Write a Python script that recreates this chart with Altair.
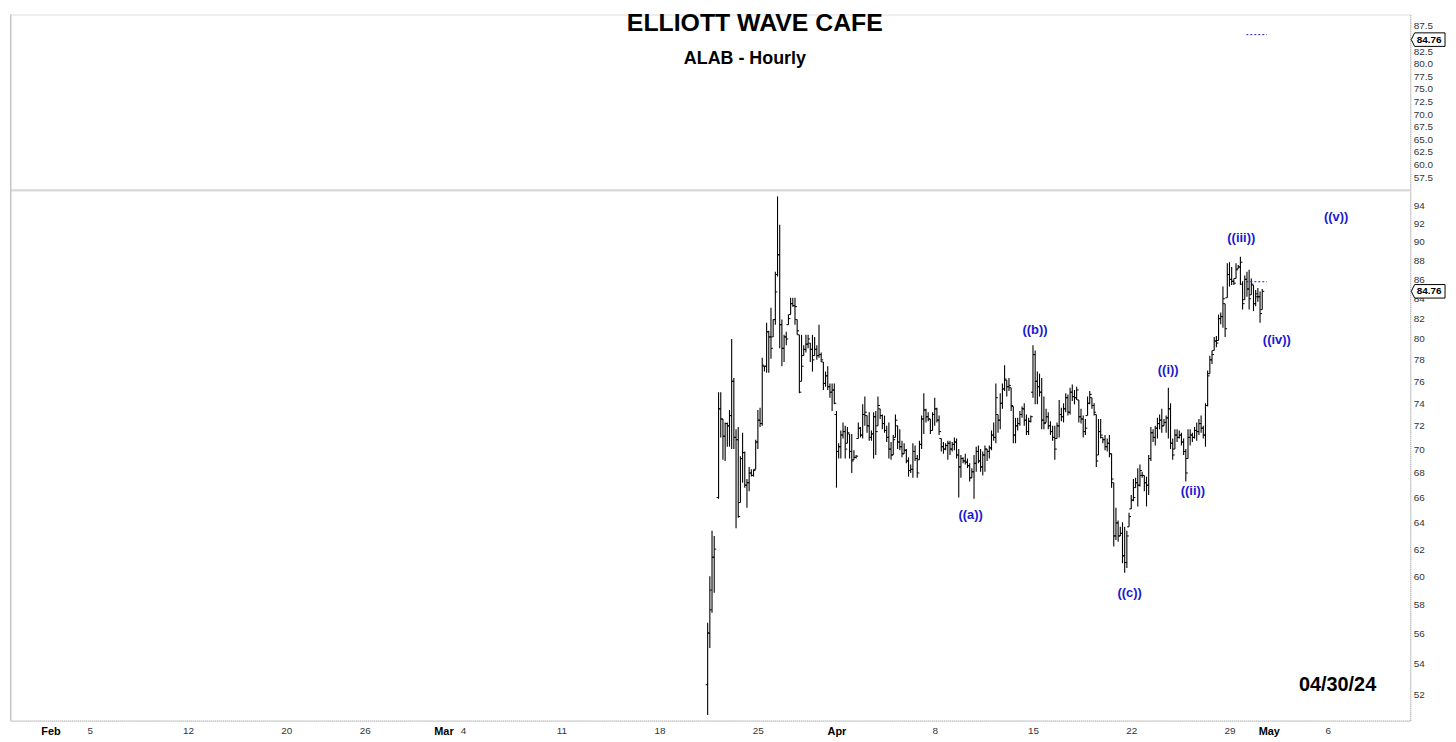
import altair as alt
import pandas as pd

# ---------------- calendar / tick labels ----------------
holidays = ["2024-02-19", "2024-03-29"]
tick_labels = ["Feb", "5", "12", "20", "26", "Mar", "4", "11", "18", "25",
               "Apr", "8", "15", "22", "29", "May", "6"]
tick_dates = ["2024-02-01", "2024-02-05", "2024-02-12", "2024-02-20", "2024-02-26",
              "2024-03-01", "2024-03-04", "2024-03-11", "2024-03-18", "2024-03-25",
              "2024-04-01", "2024-04-08", "2024-04-15", "2024-04-22", "2024-04-29",
              "2024-05-01", "2024-05-06"]
month_labels = ["Feb", "Mar", "Apr", "May"]

main_y_ticks = [52, 54, 56, 58, 60, 62, 64, 66, 68, 70, 72, 74, 76, 78, 80,
                82, 84, 86, 88, 90, 92, 94]
# 85.0 sits under the last-price tag in the reference, so it is not shown
top_y_ticks = [57.5, 60.0, 62.5, 65.0, 67.5, 70.0, 72.5, 75.0, 77.5, 80.0,
               82.5, 87.5]

# ---------------- hourly sessions ----------------
session_dates = ["2024-03-20", "2024-03-21", "2024-03-22", "2024-03-25", "2024-03-26",
                 "2024-03-27", "2024-03-28", "2024-04-01", "2024-04-02", "2024-04-03",
                 "2024-04-04", "2024-04-05", "2024-04-08", "2024-04-09", "2024-04-10",
                 "2024-04-11", "2024-04-12", "2024-04-15", "2024-04-16", "2024-04-17",
                 "2024-04-18", "2024-04-19", "2024-04-22", "2024-04-23", "2024-04-24",
                 "2024-04-25", "2024-04-26", "2024-04-29", "2024-04-30"]
bars_per_session = [4, 9, 9, 9, 9, 9, 9, 9, 9, 9, 9, 9, 9, 9, 9,
                    9, 9, 9, 9, 9, 9, 9, 9, 9, 9, 9, 9, 9, 7]
IPO_FIRST_SLOT = 4
SLOTS_PER_SESSION = 9

opens = [
    52.6, 56.0, 57.6, 61.4,
    66.0, 73.5, 72.6, 71.1, 72.2, 72.0, 72.9, 76.0, 71.0,
    70.8, 65.6, 69.2, 69.7, 67.0, 67.2, 68.0, 67.8, 68.3,
    70.6, 72.5, 72.2, 77.4, 77.4, 80.7, 80.2, 80.2, 81.9,
    86.5, 88.6, 81.4, 79.1, 80.2, 81.4, 82.4, 83.5, 83.3,
    81.9, 80.4, 76.0, 78.4, 79.0, 79.5, 79.6, 79.0, 78.4,
    79.0, 78.4, 78.5, 77.8, 75.8, 76.5, 75.5, 75.0, 75.2,
    73.0, 69.8, 70.2, 71.2, 71.5, 70.5, 71.3, 69.8, 69.1,
    69.3, 70.9, 71.8, 71.2, 73.0, 72.9, 72.0, 71.0, 71.3,
    72.8, 72.0, 73.5, 72.9, 72.2, 71.6, 71.0, 70.0, 69.5,
    71.0, 72.0, 70.6, 70.2, 69.6, 69.9, 69.0, 68.2, 68.3,
    69.8, 69.2, 69.1, 70.4, 72.6, 73.4, 72.8, 72.6, 71.6,
    73.0, 73.5, 72.5, 70.9, 70.2, 70.0, 70.3, 70.5, 70.0,
    70.4, 70.6, 69.5, 68.5, 69.2, 69.0, 68.9, 68.6, 67.6,
    68.1, 68.8, 69.8, 69.0, 68.5, 69.5, 70.0, 69.8, 70.1,
    71.2, 71.0, 73.0, 72.5, 74.0, 75.3, 76.1, 75.5, 75.4,
    73.7, 71.2, 72.0, 72.2, 73.0, 73.5, 72.5, 71.5, 72.4,
    75.0, 78.5, 76.0, 75.5, 75.0, 72.5, 72.3, 72.8, 72.0,
    71.5, 71.0, 70.9, 72.0, 73.0, 72.8, 73.5, 74.5, 73.2,
    75.0, 74.6, 74.5, 74.3, 72.8, 72.6, 71.5, 72.9, 74.0,
    74.5, 73.8, 73.0, 69.5, 71.5, 71.0, 70.8, 70.2, 70.5,
    69.6, 67.2, 63.0, 64.0, 63.0, 63.2, 61.5, 61.0, 63.7,
    65.1, 65.8, 66.8, 67.2, 67.0, 67.8, 67.8, 67.2, 67.0,
    69.2, 71.4, 71.0, 71.8, 72.2, 72.5, 72.0, 72.3, 72.7,
    73.5, 70.5, 70.0, 71.2, 71.0, 71.2, 70.6, 69.8, 69.2,
    71.0, 71.2, 71.0, 71.6, 71.5, 72.2, 71.8, 71.2, 73.8,
    76.7, 78.0, 78.9, 79.8, 79.85, 82.0, 82.2, 83.5, 84.1,
    86.5, 86.0, 85.8, 86.1, 87.1, 87.3, 85.5, 83.9, 86.0,
    85.0, 84.4, 85.4, 83.5, 84.2, 84.2, 82.9,
]
highs = [
    56.7, 60.0, 63.4, 63.0,
    75.0, 75.0, 72.6, 72.3, 72.3, 73.4, 80.0, 76.3, 71.7,
    71.9, 69.4, 71.4, 69.8, 67.5, 68.5, 68.3, 68.3, 70.8,
    73.4, 73.6, 78.2, 77.4, 81.6, 80.8, 83.1, 81.9, 86.8,
    95.1, 91.9, 81.9, 80.4, 80.7, 82.4, 84.1, 84.1, 84.1,
    81.9, 80.4, 80.4, 79.4, 80.4, 80.4, 79.6, 80.4, 80.2,
    79.4, 81.4, 78.7, 77.8, 76.9, 77.4, 75.8, 75.8, 75.8,
    73.3, 70.5, 71.6, 72.3, 72.0, 71.9, 71.3, 71.3, 69.9,
    69.5, 72.3, 71.9, 73.9, 74.6, 72.9, 73.2, 71.6, 73.2,
    73.3, 74.6, 73.5, 73.0, 72.9, 72.0, 72.3, 70.6, 71.2,
    73.0, 72.0, 71.7, 70.7, 70.5, 70.0, 69.3, 68.7, 70.5,
    70.3, 69.5, 70.7, 72.9, 74.9, 73.5, 73.2, 72.6, 73.2,
    74.5, 73.6, 72.9, 70.9, 70.6, 70.5, 70.7, 70.7, 70.6,
    71.0, 70.9, 70.0, 69.5, 69.3, 69.6, 69.2, 68.8, 68.4,
    69.5, 70.2, 70.3, 70.0, 69.8, 70.3, 70.0, 70.3, 71.6,
    72.3, 75.8, 73.0, 74.9, 75.8, 77.5, 76.1, 76.3, 75.4,
    73.7, 72.7, 72.7, 73.3, 73.7, 74.0, 73.0, 72.7, 72.9,
    79.4, 78.9, 76.9, 76.7, 76.3, 74.6, 73.5, 73.2, 72.4,
    72.0, 72.0, 72.3, 74.3, 73.6, 74.0, 74.9, 74.8, 75.4,
    75.7, 75.2, 75.5, 74.3, 73.5, 72.9, 72.6, 74.6, 75.1,
    74.5, 74.0, 73.0, 72.6, 72.6, 71.0, 71.2, 70.9, 71.2,
    69.6, 67.2, 65.2, 64.2, 63.7, 64.05, 63.7, 63.4, 64.8,
    66.2, 67.5, 67.6, 68.4, 68.7, 68.1, 67.8, 67.7, 69.5,
    71.9, 71.7, 72.0, 72.7, 73.0, 73.5, 72.6, 72.9, 75.4,
    74.0, 70.9, 71.7, 71.7, 71.6, 71.4, 70.9, 70.0, 71.7,
    71.7, 71.4, 71.9, 72.3, 72.6, 72.9, 72.0, 74.0, 77.0,
    78.4, 78.9, 80.2, 80.3, 82.4, 82.6, 85.25, 83.5, 87.7,
    87.8, 87.3, 86.1, 87.7, 87.5, 88.4, 85.8, 86.4, 86.8,
    87.0, 86.1, 85.4, 84.9, 85.1, 84.75, 85.0,
]
lows = [
    50.7, 55.0, 57.4, 58.8,
    65.9, 71.0, 69.1, 69.0, 70.2, 70.2, 70.0, 70.0, 63.6,
    64.4, 65.6, 67.2, 66.8, 65.2, 66.5, 67.7, 67.7, 68.3,
    70.0, 71.9, 72.0, 76.9, 76.8, 76.8, 78.1, 80.2, 81.4,
    86.3, 79.1, 77.4, 77.8, 79.4, 81.4, 82.4, 83.2, 81.4,
    80.4, 74.9, 76.0, 78.4, 78.7, 79.1, 77.8, 76.9, 78.4,
    78.0, 78.2, 77.8, 75.2, 75.5, 75.2, 74.5, 73.3, 73.9,
    66.8, 69.2, 69.2, 70.9, 69.2, 70.5, 69.2, 68.0, 69.1,
    69.2, 70.9, 71.0, 70.9, 72.0, 71.4, 70.7, 70.7, 69.2,
    69.5, 72.0, 72.6, 71.7, 71.4, 70.6, 69.2, 69.1, 69.5,
    71.0, 70.0, 69.9, 69.3, 69.6, 68.8, 67.7, 68.0, 67.6,
    69.0, 67.6, 69.1, 70.0, 71.3, 72.3, 72.4, 71.3, 71.6,
    72.0, 72.3, 71.2, 69.8, 69.6, 69.9, 69.1, 69.5, 69.8,
    69.9, 69.2, 66.0, 67.6, 68.8, 68.7, 68.4, 67.3, 67.6,
    65.9, 68.1, 68.8, 68.1, 67.8, 68.1, 69.0, 69.2, 69.9,
    70.7, 70.5, 71.4, 71.7, 73.5, 75.1, 74.6, 75.1, 73.3,
    70.5, 70.5, 71.6, 72.0, 72.7, 72.0, 71.2, 71.2, 72.3,
    74.5, 73.9, 73.9, 74.6, 71.7, 71.7, 72.3, 71.7, 71.2,
    70.7, 69.1, 70.9, 71.0, 72.4, 72.3, 73.2, 72.9, 73.0,
    74.2, 73.9, 74.3, 72.3, 72.2, 71.0, 71.2, 72.9, 73.9,
    73.5, 72.9, 68.5, 69.5, 70.9, 70.5, 69.9, 69.8, 69.3,
    66.8, 62.2, 62.7, 62.55, 63.0, 60.95, 60.25, 60.6, 63.7,
    65.1, 65.7, 66.8, 65.3, 66.9, 67.6, 66.5, 65.3, 66.2,
    69.0, 70.6, 70.3, 70.9, 71.7, 71.4, 72.0, 71.4, 70.9,
    70.0, 69.1, 70.0, 70.6, 70.9, 70.3, 69.5, 67.3, 69.2,
    70.3, 70.6, 70.9, 70.7, 71.2, 71.4, 70.9, 70.2, 73.7,
    76.7, 77.6, 78.9, 79.2, 79.85, 81.45, 81.1, 80.2, 84.1,
    85.25, 85.4, 85.4, 86.1, 87.1, 85.4, 82.9, 83.9, 84.2,
    82.9, 84.4, 82.75, 83.25, 83.7, 81.6, 82.9,
]
closes = [
    56.0, 59.0, 61.4, 62.0,
    73.5, 72.6, 71.1, 72.2, 72.0, 72.9, 76.0, 71.0, 70.8,
    64.5, 69.2, 69.7, 67.0, 67.2, 68.0, 67.8, 68.2, 70.6,
    72.5, 72.2, 77.5, 77.4, 80.7, 80.2, 79.1, 81.9, 84.7,
    88.6, 81.4, 79.1, 80.2, 80.0, 82.0, 83.5, 83.3, 83.2,
    80.8, 75.0, 77.4, 79.0, 79.5, 80.0, 79.0, 78.0, 79.0,
    78.4, 78.5, 78.0, 75.8, 76.5, 75.5, 75.0, 75.2, 74.0,
    69.8, 70.2, 71.2, 71.5, 70.0, 71.4, 69.8, 69.0, 69.3,
    69.4, 71.8, 71.2, 73.0, 73.2, 72.0, 71.0, 71.3, 72.8,
    71.5, 73.8, 72.9, 72.2, 71.6, 71.0, 70.0, 69.5, 70.8,
    72.5, 70.6, 70.2, 69.6, 69.9, 69.0, 68.2, 68.3, 69.8,
    69.2, 68.0, 70.4, 72.6, 73.4, 72.8, 72.6, 71.6, 73.0,
    73.5, 72.5, 71.5, 70.2, 70.0, 70.3, 70.5, 70.0, 70.4,
    70.6, 69.5, 68.5, 69.2, 69.0, 68.9, 68.6, 67.6, 68.1,
    68.8, 69.8, 69.0, 68.5, 69.5, 70.0, 69.8, 70.1, 71.2,
    71.0, 74.5, 72.5, 74.0, 75.3, 76.2, 75.5, 75.6, 73.8,
    71.2, 72.0, 72.2, 73.0, 73.5, 72.5, 71.5, 72.4, 72.8,
    78.5, 76.0, 75.5, 75.0, 72.5, 72.2, 72.8, 72.0, 71.5,
    71.0, 70.0, 72.0, 73.0, 72.8, 73.5, 74.5, 73.2, 75.0,
    74.6, 74.5, 75.2, 72.8, 72.6, 71.5, 71.8, 74.0, 74.8,
    73.8, 73.2, 69.0, 71.5, 71.2, 70.8, 70.2, 70.5, 69.6,
    67.5, 63.0, 64.0, 63.0, 63.2, 61.5, 61.0, 63.0, 64.5,
    65.8, 66.0, 67.2, 67.0, 68.2, 67.8, 67.2, 67.0, 69.2,
    71.4, 71.0, 71.8, 72.2, 72.5, 72.0, 72.3, 72.7, 73.5,
    70.5, 69.5, 71.2, 71.0, 71.2, 70.6, 69.8, 68.0, 71.0,
    71.2, 71.0, 71.6, 71.5, 72.2, 71.8, 71.2, 73.8, 76.5,
    78.0, 78.5, 79.8, 79.6, 82.0, 82.2, 84.0, 81.0, 86.5,
    86.0, 85.8, 85.6, 87.0, 87.3, 87.8, 83.5, 86.0, 85.0,
    84.0, 85.5, 83.5, 84.5, 84.2, 82.5, 84.76,
]

# Elliott-wave labels (position in sessions since Feb 1, price)
wave_labels = ["((a))", "((b))", "((c))", "((i))", "((ii))", "((iii))", "((iv))", "((v))"]
wave_pos = [46.83, 50.1, 54.92, 56.88, 58.14, 60.6, 62.41, 65.43]
wave_price = [64.6, 80.9, 58.8, 77.0, 66.5, 90.4, 79.85, 92.8]

last_price = 84.76
level_price = 85.75
level_start = 60.86
level_end = 61.9
date_stamp = "04/30/24"
date_stamp_pos = 65.5
date_stamp_price = 52.6

# ---------------- layout ----------------
W = 1410
H_TOP = 177
H_MAIN = 534
X_DOMAIN = [-2.06, 69.2]
MAIN_Y_DOMAIN = [50.36, 95.81]
TOP_Y_DOMAIN = [54.9, 89.74]
FONT = "Liberation Sans"
BLUE = "#1a1ad0"
EDGE_GRAY = "#c4c4c4"

cal = [d.strftime("%Y-%m-%d") for d in pd.bdate_range("2024-02-01", "2024-05-10")
       if d.strftime("%Y-%m-%d") not in holidays]
pos = {d: i for i, d in enumerate(cal)}

rows = []
i = 0
for s, (d, n) in enumerate(zip(session_dates, bars_per_session)):
    start = IPO_FIRST_SLOT if s == 0 else 0
    for k in range(n):
        rows.append({"t": pos[d] + (start + k) / SLOTS_PER_SESSION,
                     "o": opens[i], "h": highs[i], "l": lows[i], "c": closes[i]})
        i += 1
bars = pd.DataFrame(rows)

tick_vals = [pos[d] for d in tick_dates]
month_vals = [v for v, lab in zip(tick_vals, tick_labels) if lab in month_labels]
label_expr = "''"
for v, lab in reversed(list(zip(tick_vals, tick_labels))):
    label_expr = f"datum.value == {v} ? '{lab}' : ({label_expr})"
month_test = " || ".join(f"datum.value == {v}" for v in month_vals)

x_axis = alt.Axis(values=tick_vals, labelExpr=label_expr, grid=False, ticks=False,
                  domain=True, domainColor="#b0b0b0", domainDash=[1, 1],
                  labelFont=FONT,
                  labelFontSize={"condition": {"test": month_test, "value": 11}, "value": 10},
                  labelFontWeight={"condition": {"test": month_test, "value": "bold"}, "value": "normal"},
                  labelColor={"condition": {"test": month_test, "value": "#000000"}, "value": "#333333"},
                  labelPadding=5, labelOverlap=False, labelFlush=False, labelBound=False,
                  title=None)
x_main = alt.X("t:Q", scale=alt.Scale(domain=X_DOMAIN, nice=False, zero=False), axis=x_axis)

y_axis_main = alt.Axis(orient="right", values=main_y_ticks, format="d", grid=False,
                       ticks=False, domain=True, domainColor="#b0b0b0", domainDash=[1, 1],
                       labelFont=FONT, labelFontSize=10, labelColor="#333333",
                       labelPadding=3, labelOverlap=False, labelFlush=False, title=None)
main_scale = alt.Scale(type="log", domain=MAIN_Y_DOMAIN, nice=False, zero=False)

def ymain(field):
    return alt.Y(f"{field}:Q", scale=main_scale, axis=y_axis_main)

# ---------------- main panel ----------------
hl = alt.Chart(bars).mark_rule(color="#000000", strokeWidth=1.1).encode(
    x=x_main, y=ymain("l"), y2="h:Q")
open_tick = alt.Chart(bars).mark_tick(orient="horizontal", size=2, thickness=1,
                                      xOffset=-1, color="#000000", opacity=1).encode(
    x=x_main, y=ymain("o"))
close_tick = alt.Chart(bars).mark_tick(orient="horizontal", size=2, thickness=1,
                                       xOffset=1, color="#000000", opacity=1).encode(
    x=x_main, y=ymain("c"))

waves = pd.DataFrame({"t": wave_pos, "p": wave_price, "lbl": wave_labels})
wave_text = alt.Chart(waves).mark_text(font=FONT, fontSize=13, fontWeight="bold",
                                       color=BLUE).encode(
    x=x_main, y=ymain("p"), text="lbl:N")

level = pd.DataFrame({"t": [level_start], "t2": [level_end], "p": [level_price]})
level_main = alt.Chart(level).mark_rule(color=BLUE, strokeDash=[2, 2], strokeWidth=1).encode(
    x=x_main, x2="t2:Q", y=ymain("p"))

stamp = pd.DataFrame({"t": [date_stamp_pos], "p": [date_stamp_price], "lbl": [date_stamp]})
stamp_text = alt.Chart(stamp).mark_text(font=FONT, fontSize=20, fontWeight="bold",
                                        color="#000000").encode(
    x=x_main, y=ymain("p"), text="lbl:N")

TAG_PATH = "M -1 0 L -0.8 -0.4 L 1 -0.4 L 1 0.4 L -0.8 0.4 Z"
tag_df = pd.DataFrame({"p": [last_price], "lbl": [f"{last_price:.2f}"]})
tag_box_main = alt.Chart(tag_df).mark_point(shape=TAG_PATH, size=1156, filled=True,
                                            fill="#ffffff", stroke="#000000",
                                            strokeWidth=1, opacity=1).encode(
    x=alt.value(W + 18), y=ymain("p"))
tag_text_main = alt.Chart(tag_df).mark_text(font=FONT, fontSize=10, fontWeight="bold",
                                            color="#000000").encode(
    x=alt.value(W + 19), y=ymain("p"), text="lbl:N")

left_edge_main = alt.Chart(level).mark_rule(color=EDGE_GRAY, strokeWidth=1.5).encode(
    x=alt.value(0.75), y=alt.value(0), y2=alt.value(H_MAIN))

main = alt.layer(left_edge_main, hl, open_tick, close_tick, level_main, wave_text,
                 stamp_text, tag_box_main, tag_text_main).properties(width=W, height=H_MAIN)

# ---------------- top panel ----------------
y_axis_top = alt.Axis(orient="right", values=top_y_ticks, format=".1f", grid=False,
                      ticks=False, domain=True, domainColor="#b0b0b0", domainDash=[1, 1],
                      labelFont=FONT, labelFontSize=10, labelColor="#333333",
                      labelPadding=3, labelOverlap=False, labelFlush=False, title=None)
top_scale = alt.Scale(domain=TOP_Y_DOMAIN, nice=False, zero=False)
x_top = alt.X("t:Q", scale=alt.Scale(domain=X_DOMAIN, nice=False, zero=False), axis=None)

def ytop(field):
    return alt.Y(f"{field}:Q", scale=top_scale, axis=y_axis_top)

level_top = alt.Chart(level).mark_rule(color=BLUE, strokeDash=[2, 2], strokeWidth=1).encode(
    x=x_top, x2="t2:Q", y=ytop("p"))
tag_box_top = alt.Chart(tag_df).mark_point(shape=TAG_PATH, size=1156, filled=True,
                                           fill="#ffffff", stroke="#000000",
                                           strokeWidth=1, opacity=1).encode(
    x=alt.value(W + 18), y=ytop("p"))
tag_text_top = alt.Chart(tag_df).mark_text(font=FONT, fontSize=10, fontWeight="bold",
                                           color="#000000").encode(
    x=alt.value(W + 19), y=ytop("p"), text="lbl:N")

titles = pd.DataFrame({"lbl": ["ELLIOTT WAVE CAFE"]})
title1 = alt.Chart(titles).mark_text(font=FONT, fontSize=25, fontWeight="bold",
                                     color="#000000").encode(
    x=alt.value(750), y=alt.value(9), text="lbl:N")
subtitles = pd.DataFrame({"lbl": ["ALAB - Hourly"]})
title2 = alt.Chart(subtitles).mark_text(font=FONT, fontSize=18, fontWeight="bold",
                                        color="#000000").encode(
    x=alt.value(740), y=alt.value(45), text="lbl:N")

sep = alt.Chart(level).mark_rule(color=EDGE_GRAY, strokeWidth=1.5).encode(
    x=alt.value(0), x2=alt.value(W), y=alt.value(H_TOP))
left_edge_top = alt.Chart(level).mark_rule(color=EDGE_GRAY, strokeWidth=1.5).encode(
    x=alt.value(0.75), y=alt.value(0), y2=alt.value(H_TOP))

top = alt.layer(sep, left_edge_top, level_top, title1, title2,
                tag_box_top, tag_text_top).properties(width=W, height=H_TOP)

chart = alt.vconcat(top, main, spacing=0, bounds="flush").properties(
    padding={"left": 0, "top": 0, "right": 0, "bottom": 0}
).configure_view(strokeWidth=0, stroke="transparent").configure(background="#ffffff")

chart.save("out.html", embed_options={"renderer": "svg", "actions": False})
